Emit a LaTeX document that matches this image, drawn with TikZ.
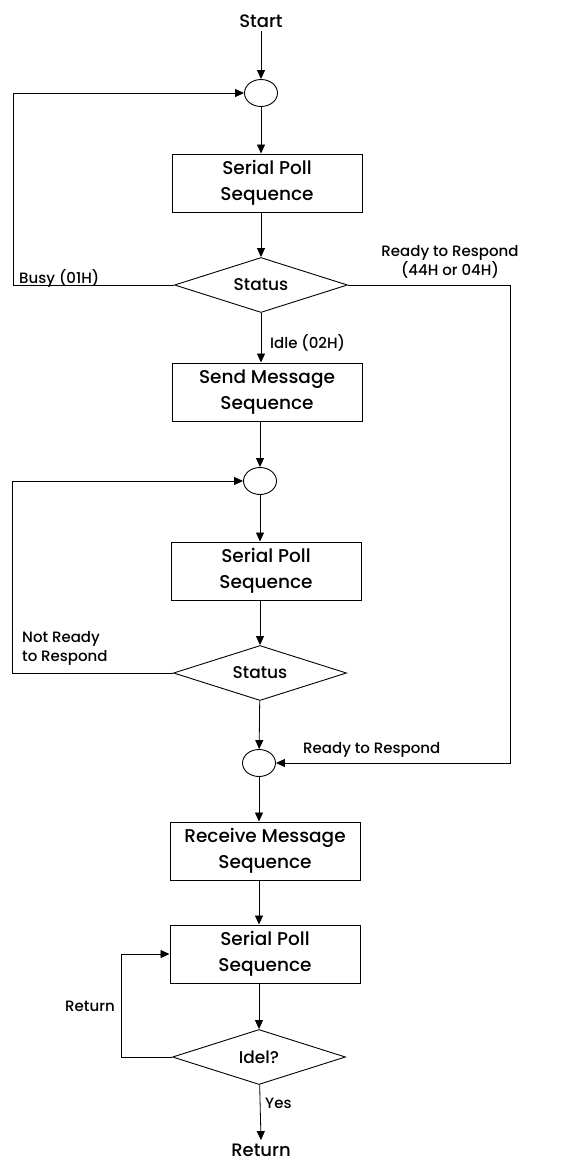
\documentclass[tikz,border=0pt]{standalone}
\usepackage{fontspec}
\setmainfont{Poppins}[UprightFont=* Medium, BoldFont=* SemiBold]
\usetikzlibrary{shapes.geometric,arrows.meta}

\tikzset{
  seqbox/.style={draw, line width=1pt, minimum width=190pt, minimum height=58pt, align=center, inner sep=2pt, font=\fontsize{18.5}{26}\selectfont},
  decision/.style={draw, diamond, line width=0.9pt, aspect=3.1, minimum width=173pt, minimum height=55pt, inner sep=0pt, font=\fontsize{17}{22}\selectfont},
  joint/.style={draw, ellipse, line width=0.9pt, minimum width=33pt, minimum height=27pt, inner sep=0pt},
  arr/.style={line width=0.8pt, -{Triangle[length=9pt,width=8pt]}},
  lbl/.style={font=\fontsize{15}{19}\selectfont, inner sep=0pt}
}

\begin{document}
\begin{tikzpicture}[x=1pt,y=-1pt]
	\useasboundingbox (0,0) rectangle (582,1165);
	% main column
	\node [font=\fontsize{18}{22}\selectfont] (start) at (261,21) {Start};
	\node [joint] (c1) at (261,93) {};
	\node [seqbox] (poll1) at (267,183) {Serial Poll\\Sequence};
	\node [decision] (status1) at (261,285) {Status};
	\node [seqbox] (send) at (267,392) {Send Message\\Sequence};
	\node [joint] (c2) at (260,481) {};
	\node [seqbox] (poll2) at (266,571) {Serial Poll\\Sequence};
	\node [decision] (status2) at (260,673) {Status};
	\node [joint] (c3) at (259,763) {};
	\node [seqbox] (recv) at (265,851) {Receive Message\\Sequence};
	\node [seqbox] (poll3) at (265,954) {Serial Poll\\Sequence};
	\node [decision] (idle) at (259,1057) {Idel?};
	\node [font=\fontsize{18}{22}\selectfont] (ret) at (261,1150) {Return};

	% straight flow
	\draw [arr] (start) -- (c1);
	\draw [arr] (c1) -- (c1 |- poll1.north);
	\draw [arr] (poll1.south -| status1) -- (status1);
	\draw [arr] (status1) -- (status1 |- send.north);
	\draw [arr] (send.south -| c2) -- (c2);
	\draw [arr] (c2) -- (c2 |- poll2.north);
	\draw [arr] (poll2.south -| status2) -- (status2);
	\draw [arr] (status2) -- (c3);
	\draw [arr] (c3) -- (c3 |- recv.north);
	\draw [arr] (recv.south -| c3) -- (poll3.north -| c3);
	\draw [arr] (poll3.south -| idle) -- (idle);
	\draw [arr] (idle) -- (ret.north);

	% loops
	\draw [arr] (status1.west) -- ++(-161,0) |- (c1.west);
	\draw [arr] (status1.east) -- ++(162,0) |- (c3.east);
	\draw [arr] (status2.west) -- ++(-161,0) |- (c2.west);
	\draw [arr] (idle.west) -- ++(-51,0) |- (poll3.west);

	% branch labels
	\node [lbl, anchor=west] (busy) at (19,278) {Busy (01H)};
	\node [lbl, align=center] (ready1) at (450,262) {Ready to Respond\\(44H or 04H)};
	\node [lbl, anchor=west] (idlelbl) at (270,343) {Idle (02H)};
	\node [lbl, anchor=west, align=left] (notready) at (22,648) {Not Ready\\to Respond};
	\node [lbl, anchor=west] (ready2) at (303,750) {Ready to Respond};
	\node [lbl] (retlbl) at (90,1006) {Return};
	\node [lbl, anchor=west] (yes) at (265,1103) {Yes};
\end{tikzpicture}
\end{document}
